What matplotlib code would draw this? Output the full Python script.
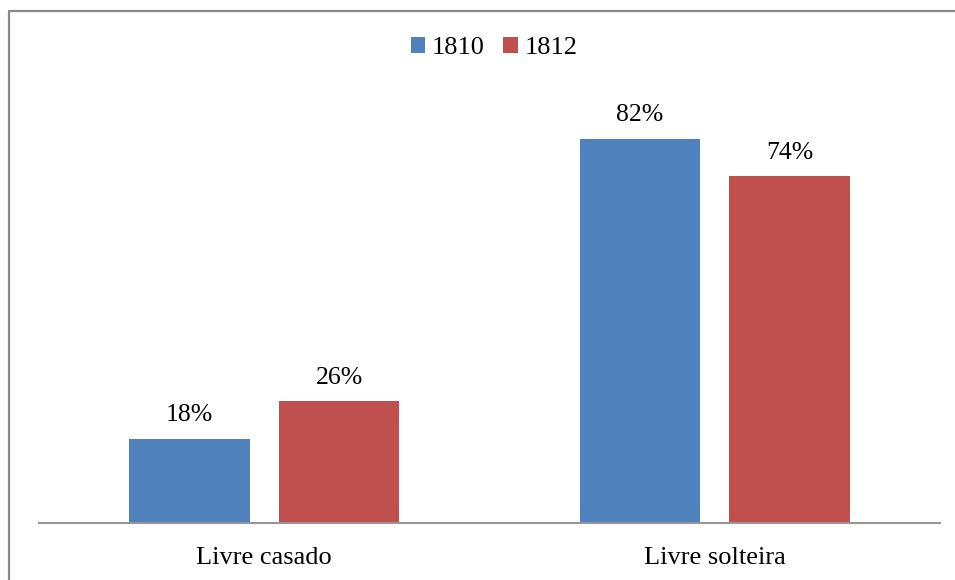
import numpy as np
import matplotlib.pyplot as plt
from matplotlib.lines import Line2D

categories = ["Livre casado", "Livre solteira"]
years = ["1810", "1812"]
values_1810 = [0.18, 0.82]
values_1812 = [0.26, 0.74]
colors = ["#4F81BD", "#C0504D"]

plt.rcParams['font.family'] = ['Liberation Serif', 'DejaVu Serif']

W, H = 955, 580
fig = plt.figure(figsize=(W / 100, H / 100), dpi=100)

# outer chart border: only top and left edges are inside the picture
fig.lines.append(Line2D([9 / W, 9 / W, 1], [0, 1 - 10.5 / H, 1 - 10.5 / H],
                        transform=fig.transFigure, color="#898989", linewidth=1.6))

# axes in pixel coordinates: x 39..940, baseline at y=523
ax = fig.add_axes([39 / W, (H - 523) / H, 901 / W, 422 / H])
ax.set_xlim(0, 2)
ax.set_ylim(0, 0.9)

x = np.arange(len(categories)) + 0.5
width = 0.268
offset = 0.166
b1 = ax.bar(x - offset, values_1810, width, color=colors[0], label=years[0])
b2 = ax.bar(x + offset, values_1812, width, color=colors[1], label=years[1])

for bars, vals in [(b1, values_1810), (b2, values_1812)]:
    for rect, v in zip(bars, vals):
        ax.annotate(f"{v * 100:.0f}%", (rect.get_x() + rect.get_width() / 2, v),
                    xytext=(0, 9), textcoords="offset points",
                    ha="center", va="bottom", fontsize=18.5)

ax.set_xticks(x)
ax.set_xticklabels(categories, fontsize=19)
ax.tick_params(axis="x", length=0, pad=17)
ax.set_yticks([])
for s in ["top", "right", "left"]:
    ax.spines[s].set_visible(False)
ax.spines["bottom"].set_color("#969696")
ax.spines["bottom"].set_linewidth(1.5)

fig.legend(handles=[b1, b2], labels=years, loc="center", bbox_to_anchor=(494 / W, 1 - 48 / H),
           ncol=2, frameon=False, fontsize=19, handlelength=0.55, handleheight=0.55,
           handletextpad=0.25, columnspacing=0.7)

fig.savefig("out.png", dpi=100)
